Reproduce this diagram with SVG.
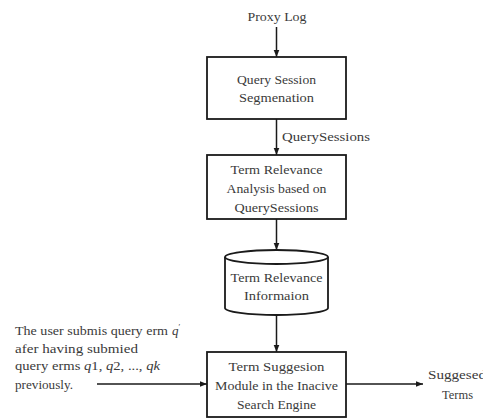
<svg xmlns="http://www.w3.org/2000/svg" width="483" height="419" viewBox="0 0 483 419">
<defs>
<style>
.box{fill:#fff;stroke:#1a1a1a;stroke-width:1.8}
.t{font-family:"Liberation Serif","Times New Roman",serif;font-size:13px;fill:#3a3a3a}
.c{text-anchor:middle}
.e{stroke:#1a1a1a;stroke-width:1.5;fill:none;marker-end:url(#ah)}
</style>
<marker id="ah" viewBox="0 0 10 10" refX="10" refY="5" markerWidth="7" markerHeight="7" markerUnits="userSpaceOnUse" orient="auto">
<path d="M0,1 L10,5 L0,9 z" fill="#1a1a1a"/>
</marker>
</defs>
<rect width="483" height="419" fill="#fff"/>
<g id="connectors">
<line class="e" x1="276.5" y1="27" x2="276.5" y2="57"/>
<line class="e" x1="276.5" y1="119" x2="276.5" y2="155"/>
<line class="e" x1="276.5" y1="219" x2="276.5" y2="250"/>
<line class="e" x1="276.5" y1="315" x2="276.5" y2="352"/>
<line class="e" x1="97" y1="384" x2="207" y2="384"/>
<line class="e" x1="346" y1="384" x2="423" y2="384"/>
<text class="t" x="282" y="141" textLength="88" lengthAdjust="spacingAndGlyphs">QuerySessions</text>
</g>
<g id="proxy-log">
<text class="t c" x="277" y="21" textLength="59" lengthAdjust="spacingAndGlyphs">Proxy Log</text>
</g>
<g id="segmentation">
<rect class="box" x="207" y="57" width="139" height="62"/>
<text class="t c" x="276.5" y="84" textLength="79" lengthAdjust="spacingAndGlyphs">Query Session</text>
<text class="t c" x="276.5" y="102" textLength="75" lengthAdjust="spacingAndGlyphs">Segmenation</text>
</g>
<g id="analysis">
<rect class="box" x="207" y="155" width="139" height="64"/>
<text class="t c" x="276.5" y="174" textLength="92" lengthAdjust="spacingAndGlyphs">Term Relevance</text>
<text class="t c" x="276.5" y="193" textLength="100" lengthAdjust="spacingAndGlyphs">Analysis based on</text>
<text class="t c" x="276.5" y="212" textLength="84" lengthAdjust="spacingAndGlyphs">QuerySessions</text>
</g>
<g id="relevance-info">
<path class="box" d="M225,257 L225,308 A51.5,7 0 0 0 328,308 L328,257"/>
<ellipse class="box" cx="276.5" cy="257" rx="51.5" ry="7"/>
<text class="t c" x="276.5" y="282" textLength="92" lengthAdjust="spacingAndGlyphs">Term Relevance</text>
<text class="t c" x="276.5" y="300" textLength="65" lengthAdjust="spacingAndGlyphs">Informaion</text>
</g>
<g id="suggestion-module">
<rect class="box" x="207" y="352" width="139" height="65"/>
<text class="t c" x="276.5" y="371" textLength="96" lengthAdjust="spacingAndGlyphs">Term Suggesion</text>
<text class="t c" x="276.5" y="390" textLength="123" lengthAdjust="spacingAndGlyphs">Module in the Inacive</text>
<text class="t c" x="276.5" y="409" textLength="79" lengthAdjust="spacingAndGlyphs">Search Engine</text>
</g>
<g id="user-input">
<text class="t" x="15" y="335"><tspan textLength="153" lengthAdjust="spacingAndGlyphs">The user submis query erm</tspan><tspan x="172" font-style="italic">q</tspan><tspan font-size="8" dy="-5">′</tspan></text>
<text class="t" x="15" y="353" textLength="123" lengthAdjust="spacingAndGlyphs">afer having submied</text>
<text class="t" x="15" y="370" textLength="145" lengthAdjust="spacingAndGlyphs">query erms <tspan font-style="italic">q</tspan>1, <tspan font-style="italic">q</tspan>2, ..., <tspan font-style="italic">qk</tspan></text>
<text class="t" x="15" y="389" textLength="58" lengthAdjust="spacingAndGlyphs">previously.</text>
</g>
<g id="suggested-terms">
<text class="t" x="428" y="379" textLength="58" lengthAdjust="spacingAndGlyphs">Suggesed</text>
<text class="t" x="442" y="399" textLength="31" lengthAdjust="spacingAndGlyphs">Terms</text>
</g>
</svg>
